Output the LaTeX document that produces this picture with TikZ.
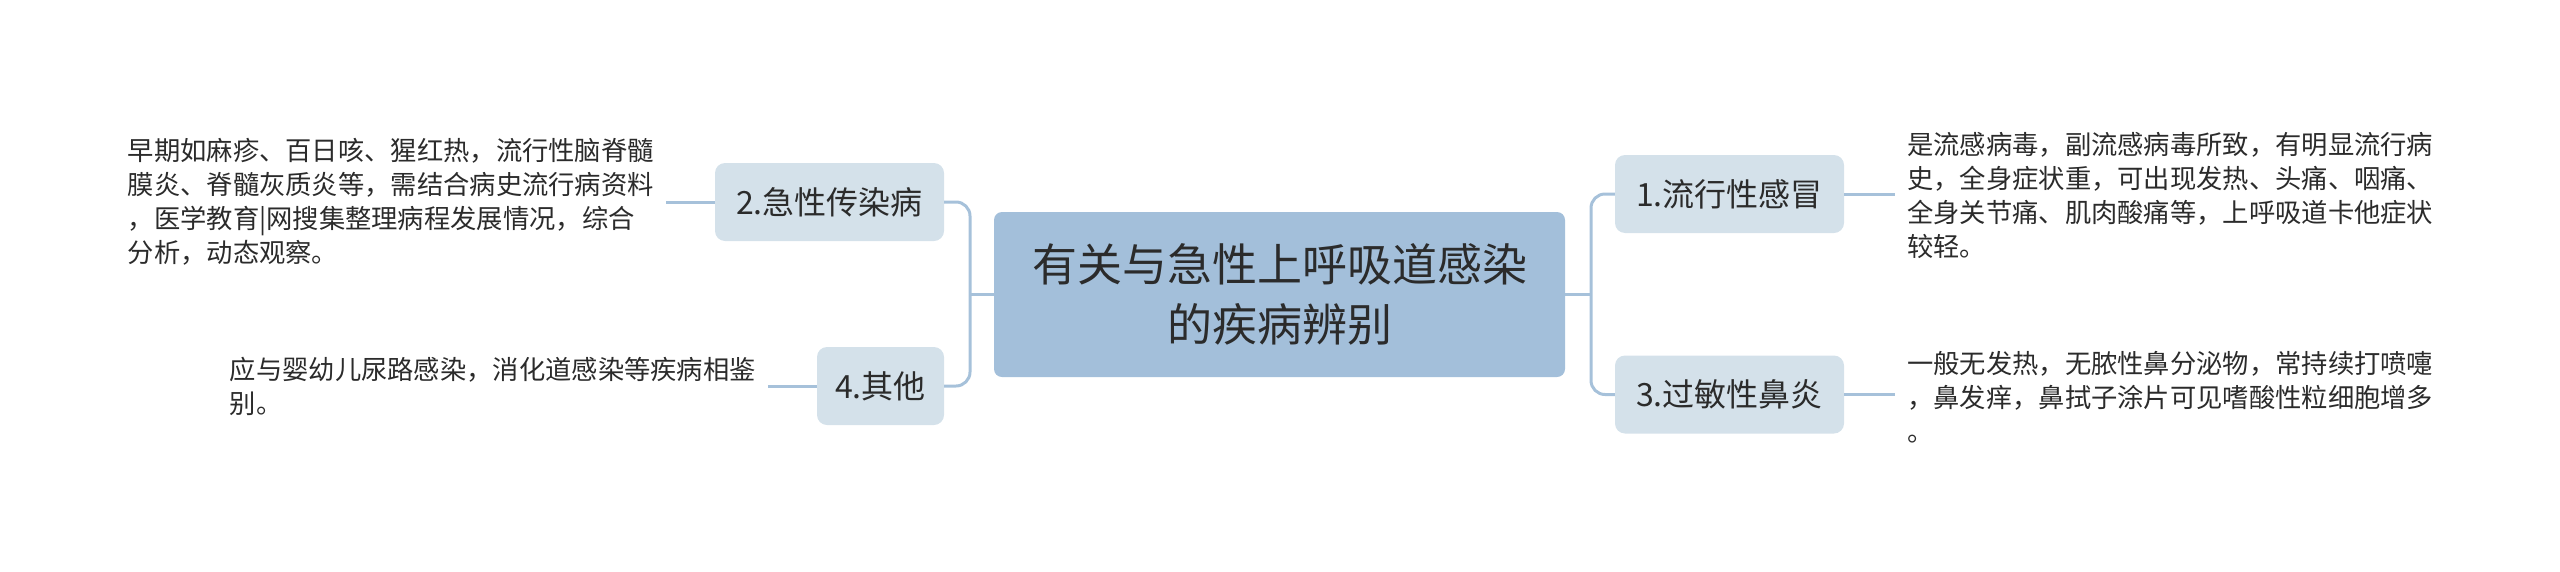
\documentclass[tikz,border=0pt]{standalone}
\usepackage{fontspec}
\setmainfont{Noto Sans CJK SC}
\begin{document}
\begin{tikzpicture}[x=1pt,y=-1pt,
  every node/.style={font=\fontsize{26.3}{34}\selectfont, text=textdark},
  rootbox/.style={fill=rootblue, rounded corners=8pt, minimum width=571pt, minimum height=165pt, align=center, inner sep=0pt, font=\fontsize{45}{60}\selectfont},
  topicbox/.style={fill=topicgray, rounded corners=10pt, minimum height=78pt, inner sep=0pt, font=\fontsize{32}{40}\selectfont},
  leaftext/.style={align=left, inner xsep=12pt, inner ysep=0pt},
  conn/.style={draw=lineblue, line width=3pt},
]
\definecolor{rootblue}{HTML}{A3BFDA}
\definecolor{topicgray}{HTML}{D4E1EA}
\definecolor{lineblue}{HTML}{A6C1DA}
\definecolor{textdark}{HTML}{2B2B2B}
\useasboundingbox (0,0) rectangle (2560,571);

\node[rootbox] (c) at (1279.5,294.5) {有关与急性上呼吸道感染\\的疾病辨别};

\node[topicbox, minimum width=229pt] (n1) at (1729.5,194) {1.流行性感冒};
\node[topicbox, minimum width=229pt] (n3) at (1729.5,394.5) {3.过敏性鼻炎};
\node[topicbox, minimum width=229pt] (n2) at (829.5,202) {2.急性传染病};
\node[topicbox, minimum width=127pt] (n4) at (880.5,386) {4.其他};

\node[leaftext, anchor=west] (l1) at (1895,195) {是流感病毒，副流感病毒所致，有明显流行病\\史，全身症状重，可出现发热、头痛、咽痛、\\全身关节痛、肌肉酸痛等，上呼吸道卡他症状\\较轻。};
\node[leaftext, anchor=west] (l3) at (1895,397) {一般无发热，无脓性鼻分泌物，常持续打喷嚏\\，鼻发痒，鼻拭子涂片可见嗜酸性粒细胞增多\\。};
\node[leaftext, anchor=east] (l2) at (666,202) {早期如麻疹、百日咳、猩红热，流行性脑脊髓\\膜炎、脊髓灰质炎等，需结合病史流行病资料\\，医学教育|网搜集整理病程发展情况，综合\\分析，动态观察。};
\node[leaftext, anchor=east] (l4) at (768,386) {应与婴幼儿尿路感染，消化道感染等疾病相鉴\\别。};

\coordinate (jr) at (1591,294.5);
\coordinate (jl) at (970,294.5);

\draw[conn] (c.east) -- (jr);
\draw[conn, rounded corners=14pt] (n1.west) -| (jr) |- (n3.west);
\draw[conn] (c.west) -- (jl);
\draw[conn, rounded corners=14pt] (n2.east) -| (jl) |- (n4.east);

\draw[conn] (n1.east) -- (n1.east -| l1.west);
\draw[conn] (n3.east) -- (n3.east -| l3.west);
\draw[conn] (n2.west) -- (n2.west -| l2.east);
\draw[conn] (n4.west) -- (n4.west -| l4.east);
\end{tikzpicture}
\end{document}
